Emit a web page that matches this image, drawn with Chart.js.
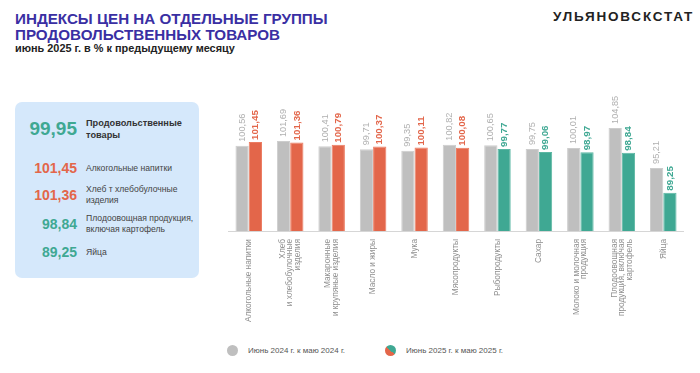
<!DOCTYPE html>
<html>
<head>
<meta charset="utf-8">
<script src="https://cdn.jsdelivr.net/npm/chart.js@4/dist/chart.umd.min.js"></script>
<style>
  body { margin: 0; width: 700px; height: 373px; background: #fff; font-family: "Liberation Sans", Arial, sans-serif; position: relative; overflow: hidden; }
  .title { position: absolute; left: 15px; top: 11px; color: #3a2fa3; font-weight: bold; font-size: 15.2px; line-height: 16px; }
  .subtitle { position: absolute; left: 15px; top: 42px; color: #222; font-weight: bold; font-size: 10.9px; }
  .brand { position: absolute; left: 553px; top: 9px; color: #222; font-weight: bold; font-size: 13.5px; letter-spacing: 1.8px; }
  .panel { position: absolute; left: 15px; top: 102px; width: 184px; height: 176px; background: #d5e8fb; border-radius: 7px; }
  .row { position: absolute; left: 0; width: 184px; height: 30px; display: flex; align-items: center; }
  .num { width: 62px; text-align: right; font-weight: bold; font-size: 14px; }
  .lbl { margin-left: 9px; font-size: 8.6px; line-height: 11px; color: #444; }
  .legend { position: absolute; top: 345px; font-size: 8px; color: #555; display: flex; align-items: center; }
  .dot { width: 11px; height: 11px; border-radius: 50%; margin-right: 10px; }
  #chartBox { position: absolute; left: 228px; top: 90px; }
</style>
</head>
<body>
<div class="title">ИНДЕКСЫ ЦЕН НА ОТДЕЛЬНЫЕ ГРУППЫ<br>ПРОДОВОЛЬСТВЕННЫХ ТОВАРОВ</div>
<div class="subtitle">июнь 2025 г. в % к предыдущему месяцу</div>
<div class="brand">УЛЬЯНОВСКСТАТ</div>

<div class="panel">
  <div class="row" style="top:12px"><div class="num" style="font-size:19px;color:#3fa893">99,95</div><div class="lbl" style="font-weight:bold;color:#333;font-size:9.2px;line-height:12px">Продовольственные<br>товары</div></div>
  <div class="row" style="top:51px"><div class="num" style="color:#e3664a">101,45</div><div class="lbl">Алкогольные напитки</div></div>
  <div class="row" style="top:78px"><div class="num" style="color:#e3664a">101,36</div><div class="lbl">Хлеб т хлебобулочные<br>изделия</div></div>
  <div class="row" style="top:107px"><div class="num" style="color:#3fa893">98,84</div><div class="lbl">Плодоовощная продукция,<br>включая картофель</div></div>
  <div class="row" style="top:135px"><div class="num" style="color:#3fa893">89,25</div><div class="lbl">Яйца</div></div>
</div>

<div id="chartBox"><canvas id="myChart" width="456" height="241"></canvas></div>

<div class="legend" style="left:227px"><div class="dot" style="background:#bfbfbf"></div>Июнь 2024 г. к маю 2024 г.</div>
<div class="legend" style="left:385px"><div class="dot" style="background:linear-gradient(45deg,#e3664a 50%,#3fa893 50%)"></div>Июнь 2025 г. к маю 2025 г.</div>

<script>
const categories = [
    'Алкогольные напитки',
    ['Хлеб', 'и хлебобулочные', 'изделия'],
    ['Макаронные', 'и крупяные изделия'],
    'Масло и жиры',
    'Мука',
    'Мясопродукты',
    'Рыбопродукты',
    'Сахар',
    ['Молоко и молочная', 'продукция'],
    ['Плодоовощная', 'продукция, включая', 'картофель'],
    'Яйца'
];
const values2024 = [100.56, 101.69, 100.41, 99.71, 99.35, 100.82, 100.65, 99.75, 100.01, 104.85, 95.21];
const values2025 = [101.45, 101.36, 100.79, 100.37, 100.11, 100.08, 99.77, 99.06, 98.97, 98.84, 89.25];

const grayColor = '#bfbfbf';
const upColor = '#e3664a';    // orange, above 100
const downColor = '#3fa893';  // teal, below 100

const barColor = v => v >= 100 ? upColor : downColor;
const fmt = v => v.toFixed(2).replace('.', ',');

// value labels above bars + rotated category labels under the axis
const labelsPlugin = {
    id: 'labelsPlugin',
    afterDatasetsDraw(chart) {
        const ctx = chart.ctx;
        chart.data.datasets.forEach((ds, di) => {
            chart.getDatasetMeta(di).data.forEach((bar, i) => {
                ctx.save();
                ctx.translate(bar.x, bar.y - (di === 0 ? 4 : 2));
                ctx.rotate(-Math.PI / 2);
                ctx.font = di === 0 ? '9.2px "Liberation Sans"' : 'bold 9.8px "Liberation Sans"';
                ctx.fillStyle = di === 0 ? '#b0b0b0' : barColor(ds.data[i]);
                ctx.textAlign = 'left';
                ctx.textBaseline = 'middle';
                ctx.fillText(fmt(ds.data[i]), 0, 0);
                ctx.restore();
            });
        });

        const xs = chart.scales.x;
        const lh = 7.6;
        categories.forEach((cat, i) => {
            const lines = Array.isArray(cat) ? cat : [cat];
            ctx.save();
            ctx.translate(xs.getPixelForValue(i), xs.top + 8);
            ctx.rotate(-Math.PI / 2);
            ctx.font = '8.3px "Liberation Sans"';
            ctx.fillStyle = '#8f8f8f';
            ctx.textAlign = 'right';
            ctx.textBaseline = 'middle';
            lines.forEach((line, j) => {
                ctx.fillText(line, 0, (j - (lines.length - 1) / 2) * lh);
            });
            ctx.restore();
        });
    }
};

const ctx = document.getElementById('myChart').getContext('2d');
new Chart(ctx, {
    type: 'bar',
    data: {
        labels: categories,
        datasets: [
            {
                label: 'Июнь 2024 г. к маю 2024 г.',
                data: values2024,
                backgroundColor: grayColor,
                borderColor: '#cdcdcd',
                borderWidth: 1,
                categoryPercentage: 0.64,
                barPercentage: 1
            },
            {
                label: 'Июнь 2025 г. к маю 2025 г.',
                data: values2025,
                backgroundColor: values2025.map(barColor),
                borderColor: values2025.map(v => v >= 100 ? '#ec7c62' : '#5bb7a3'),
                borderWidth: 1,
                categoryPercentage: 0.64,
                barPercentage: 1
            }
        ]
    },
    options: {
        responsive: false,
        animation: false,
        layout: { padding: 0 },
        plugins: {
            legend: { display: false },
            tooltip: { enabled: false }
        },
        scales: {
            x: {
                grid: { display: false, drawTicks: false },
                border: { display: true, color: '#d6d6d6', width: 1 },
                ticks: { display: false },
                afterFit(scale) { scale.height = 100; }
            },
            y: {
                display: false,
                min: 80,
                max: 114
            }
        }
    },
    plugins: [labelsPlugin]
});
</script>
</body>
</html>
